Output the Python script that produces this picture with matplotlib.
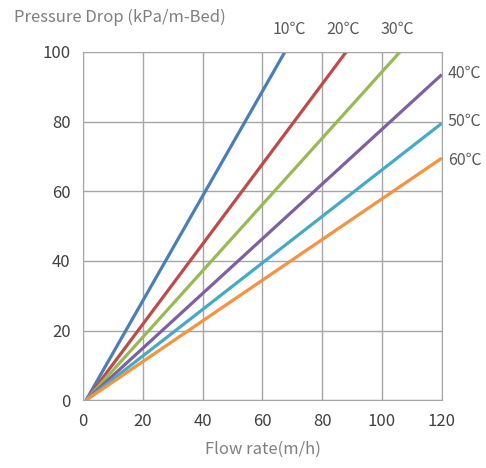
import matplotlib.pyplot as plt

plt.rcParams['font.family'] = ['Noto Sans CJK KR', 'DejaVu Sans']

# Flow rate (m/h) vs pressure drop (kPa/m-Bed) per temperature
temps = ['10℃', '20℃', '30℃', '40℃', '50℃', '60℃']
flow_start = [1, 1, 1, 1, 1, 1]
flow_end = [67.5, 88, 106, 120, 120, 120]
dp_end = [100, 100, 100, 93.5, 79.5, 69.5]
colors = ['#4A7EBB', '#BE4B48', '#98B954', '#7D60A0', '#46AAC5', '#F69240']

fig = plt.figure(figsize=(4.86, 4.68), dpi=100)
ax = fig.add_axes([0.171, 0.145, 0.738, 0.744])

for t, x0, x1, y1, c in zip(temps, flow_start, flow_end, dp_end, colors):
    ax.plot([x0, x1], [0, y1], color=c, lw=2.3, solid_capstyle='butt')

ax.set_xlim(0, 120)
ax.set_ylim(0, 100)
ax.set_xticks(range(0, 121, 20))
ax.set_yticks(range(0, 101, 20))
ax.grid(True, color='#A6A6A6', lw=1)
ax.set_axisbelow(True)
for s in ax.spines.values():
    s.set_color('#A6A6A6')
ax.tick_params(length=0, labelsize=12, labelcolor='#404040', pad=9)

# temperature labels
top_labels = {'10℃': 69, '20℃': 87, '30℃': 105}
for t, x in top_labels.items():
    ax.text(x, 104, t, ha='center', va='bottom', fontsize=11.5, color='#595959', clip_on=False)
side_labels = {'40℃': 94, '50℃': 80, '60℃': 69}
for t, y in side_labels.items():
    ax.text(122, y, t, ha='left', va='center', fontsize=11.5, color='#595959', clip_on=False)

fig.text(0.028, 0.962, 'Pressure Drop (kPa/m-Bed)', fontsize=12, color='#7F7F7F', va='center')
ax.set_xlabel('Flow rate(m/h)', fontsize=12, color='#7F7F7F', labelpad=8)

fig.savefig('out.png', dpi=100)
